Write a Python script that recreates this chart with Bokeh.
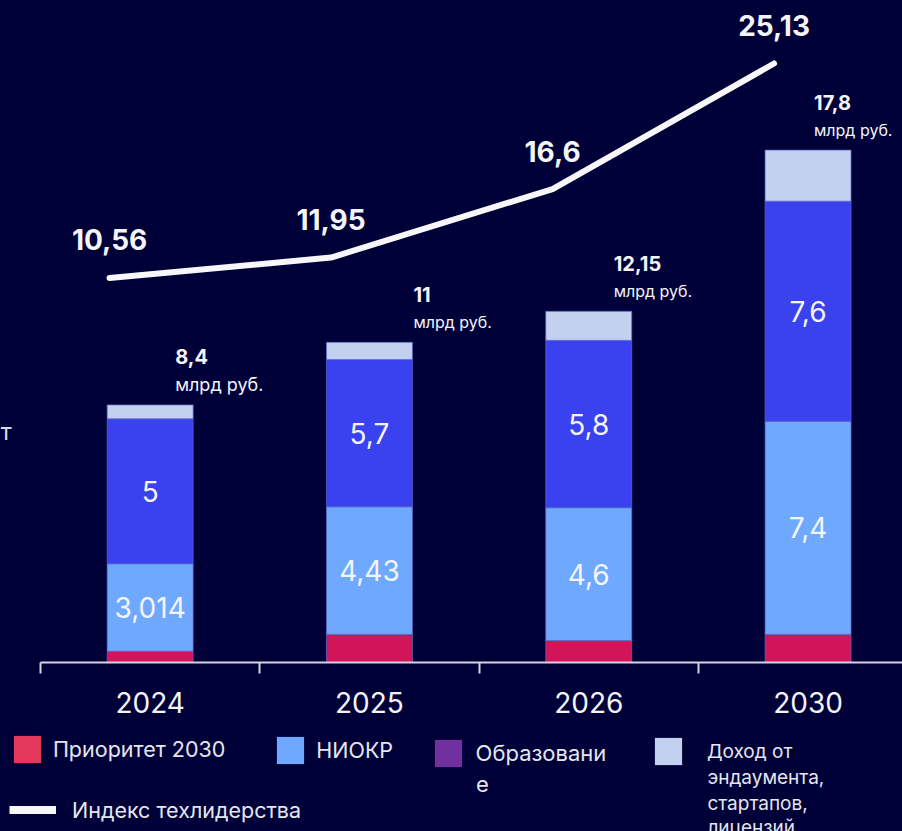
from bokeh.plotting import figure
from bokeh.models import Range1d, ColumnDataSource, FixedTicker, Legend, LegendItem, Label
from bokeh.layouts import column
from bokeh.core.properties import value
from bokeh.embed import file_html
from bokeh.resources import INLINE

# ---------------- data ----------------
years = ["2024", "2025", "2026", "2030"]
series_names = ["Приоритет 2030", "НИОКР", "Образование",
                "Доход от эндаумента, стартапов, лицензий"]
# how the legend texts wrap in the reference
series_lines = [["Приоритет 2030"], ["НИОКР"], ["Образовани", "е"],
                ["Доход от", "эндаумента,", "стартапов,", "лицензий"]]
prior = [0.39, 0.97, 0.76, 0.97]
niokr = [3.014, 4.4, 4.58, 7.35]
obraz = [5.0, 5.08, 5.77, 7.59]
dohod = [0.48, 0.59, 1.0, 1.76]
niokr_labels = ["3,014", "4,43", "4,6", "7,4"]
obraz_labels = ["5", "5,7", "5,8", "7,6"]
totals = [8.4, 11, 12.15, 17.8]
index_vals = [10.56, 11.95, 16.6, 25.13]
index_name = "Индекс техлидерства"
unit = "млрд руб."
side_text = "т"

# ---------------- style ----------------
BG = "#000038"
FONT = "Inter"
bar_colors = ["#d2145a", "#6fa9ff", "#3a41ee", "#c3d0f0"]
legend_colors = ["#e3375b", "#6fa9ff", "#7030a0", "#c3d0f0"]
TXT = "#f4f4fa"
LEG_TXT = "#e6e6ee"


def fmt(v):
    return f"{v:g}".replace(".", ",")


x = [i + 0.5 for i in range(len(years))]
line_x = [i + 0.315 + 0.01 * i for i in range(len(years))]

src = ColumnDataSource(dict(x=x, prior=prior, niokr=niokr, obraz=obraz, dohod=dohod))

X0, X1 = -0.1824, 3.9307
p = figure(width=902, height=728,
           x_range=Range1d(X0, X1), y_range=Range1d(0, 22.83),
           output_backend="svg", toolbar_location=None, y_axis_location=None,
           min_border_left=0, min_border_right=0, min_border_top=0, min_border_bottom=66,
           background_fill_color=BG, border_fill_color=BG, outline_line_color=None)
p.grid.visible = False
p.extra_y_ranges = {"idx": Range1d(-15.56, 29.41)}

p.vbar_stack(["prior", "niokr", "obraz", "dohod"], x="x", width=0.392, source=src,
             fill_color=bar_colors, line_color="#5f6acb", line_width=1, line_alpha=0.7)

# in-bar labels at segment midpoints
mid_n = [pr + n / 2 for pr, n in zip(prior, niokr)]
mid_o = [pr + n + o / 2 for pr, n, o in zip(prior, niokr, obraz)]
lab_src = ColumnDataSource(dict(x=x + x, y=mid_n + mid_o, t=niokr_labels + obraz_labels))
p.text(x="x", y="y", text="t", source=lab_src, text_font=value(FONT),
       text_font_size="28px", text_color=TXT, text_align="center", text_baseline="middle")

# totals above bars
tops = [a + b + c + d for a, b, c, d in zip(prior, niokr, obraz, dohod)]
tot_src = ColumnDataSource(dict(
    x=x, y=tops, t=[fmt(v) for v in totals], u=[unit] * len(years),
    dx=[25, 44, 25, 6], fs=["20px", "20px", "20px", "20px"], fu=["18px", "16px", "16px", "16px"]))
p.text(x="x", y="y", text="t", source=tot_src, x_offset="dx", y_offset=-48,
       text_font=value(FONT), text_font_style="bold", text_font_size="fs",
       text_color=TXT, text_align="left", text_baseline="middle")
p.text(x="x", y="y", text="u", source=tot_src, x_offset="dx", y_offset=-20,
       text_font=value(FONT), text_font_size="fu",
       text_color=TXT, text_align="left", text_baseline="middle")

# index line
p.line(x=line_x, y=index_vals, y_range_name="idx", line_color="#f7f7fa",
       line_width=6, line_cap="round", line_join="round")
p.text(x=line_x, y=index_vals, text=[fmt(v) for v in index_vals], y_range_name="idx",
       y_offset=-38, text_font=value(FONT), text_font_style="bold", text_font_size="28px",
       text_color=TXT, text_align="center", text_baseline="middle")

# side caption fragment at the left edge
p.add_layout(Label(x=0, y=231, x_units="screen", y_units="screen", text=side_text,
                   text_font=FONT, text_font_size="24px", text_color="#d8d8e0",
                   text_baseline="middle", text_align="left"))

# x axis: labels at category centres, ticks at category boundaries
ax = p.xaxis[0]
ax.ticker = FixedTicker(ticks=x, minor_ticks=list(range(len(years))))
ax.major_label_overrides = {xx: y for xx, y in zip(x, years)}
ax.major_tick_line_color = None
ax.major_tick_out = 0
ax.major_tick_in = 0
ax.minor_tick_out = 11
ax.minor_tick_in = 0
ax.minor_tick_line_color = "#d4d4dc"
ax.minor_tick_line_width = 2
ax.axis_line_color = "#d4d4dc"
ax.axis_line_width = 2
ax.bounds = (0, X1)
ax.major_label_standoff = 18
ax.major_label_text_font = FONT
ax.major_label_text_font_size = "28px"
ax.major_label_text_color = TXT

# ---------------- legend panel ----------------
p2 = figure(width=902, height=103, x_range=Range1d(0, 1), y_range=Range1d(0, 1),
            output_backend="svg", toolbar_location=None,
            x_axis_location=None, y_axis_location=None,
            min_border_left=0, min_border_right=0, min_border_top=0, min_border_bottom=0,
            background_fill_color=BG, border_fill_color=BG, outline_line_color=None)
p2.grid.visible = False

# (legend x, legend y from bottom, label standoff, font size, continuation-line y's)
leg_pos = [(9.9, 65.4, 9, "21.5px", []),
           (273.3, 63.7, 9, "21.5px", []),
           (430.6, 61.5, 11, "22px", [48]),
           (650.9, 63.0, 22, "19px", [54.3, 28, 4.3])]
for name, lines, col, (lx, ly, so, fs, cont) in zip(series_names, series_lines,
                                                    legend_colors, leg_pos):
    r = p2.rect(x=[-5], y=[-5], width=0.1, height=0.1, fill_color=col, line_color=None,
                name=name)
    lg = Legend(items=[LegendItem(label=lines[0], renderers=[r])], location=(lx, ly),
                padding=0, margin=0, spacing=0, border_line_color=None,
                background_fill_alpha=0, glyph_width=34, glyph_height=34,
                label_standoff=so, label_text_font=FONT, label_text_font_size=fs,
                label_text_color=LEG_TXT)
    p2.add_layout(lg)
    for ln, cy in zip(lines[1:], cont):
        p2.add_layout(Label(x=lx + 34 + so, y=cy, x_units="screen", y_units="screen",
                            text=ln, text_font=FONT, text_font_size=fs,
                            text_color=LEG_TXT, text_baseline="middle", text_align="left"))

rl = p2.line(x=[-5, -4], y=[-5, -5], line_color="#f7f7fa", line_width=8)
lg = Legend(items=[LegendItem(label=index_name, renderers=[rl])], location=(9, 8),
            padding=0, margin=0, spacing=0, border_line_color=None,
            background_fill_alpha=0, glyph_width=47, glyph_height=27,
            label_standoff=16, label_text_font=FONT, label_text_font_size="21.5px",
            label_text_color=LEG_TXT)
p2.add_layout(lg)

layout = column(p, p2, spacing=0)
html = file_html(layout, INLINE)
html = html.replace("<head>", "<head><style>body{background:%s;}</style>" % BG, 1)
open("out.html", "w").write(html)
